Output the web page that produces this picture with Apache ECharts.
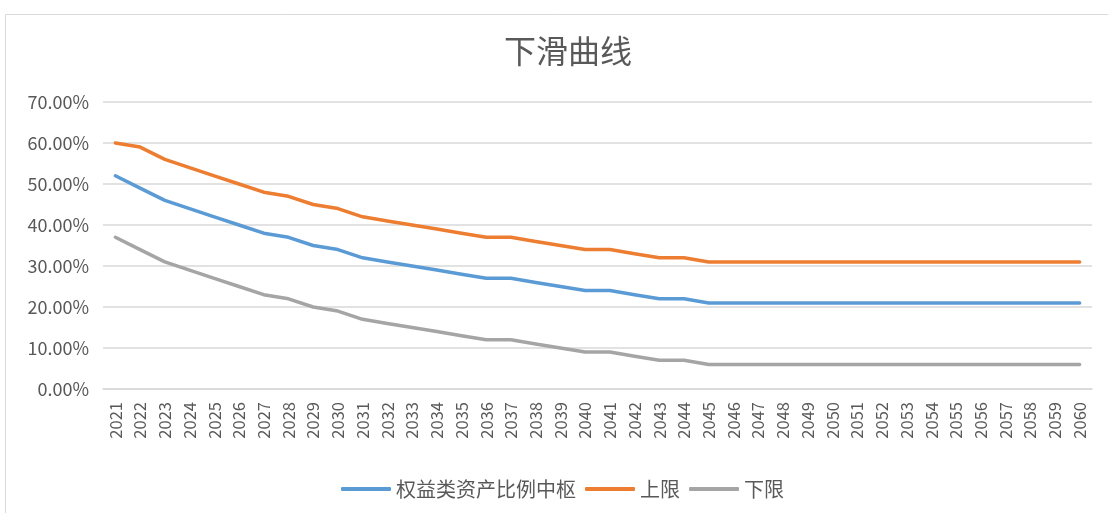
<!DOCTYPE html>
<html><head><meta charset="utf-8">
<script src="https://cdn.jsdelivr.net/npm/echarts@6/dist/echarts.min.js"></script>
<style>html,body{margin:0;padding:0;background:#fff}#c{width:1108px;height:513px}</style>
</head><body><div id="c"></div>
<script>
const years = [2021,2022,2023,2024,2025,2026,2027,2028,2029,2030,2031,2032,2033,2034,2035,2036,2037,2038,2039,2040,2041,2042,2043,2044,2045,2046,2047,2048,2049,2050,2051,2052,2053,2054,2055,2056,2057,2058,2059,2060].map(String);
const center = [52,49,46,44,42,40,38,37,35,34,32,31,30,29,28,27,27,26,25,24,24,23,22,22,21,21,21,21,21,21,21,21,21,21,21,21,21,21,21,21];
const upper  = [60,59,56,54,52,50,48,47,45,44,42,41,40,39,38,37,37,36,35,34,34,33,32,32,31,31,31,31,31,31,31,31,31,31,31,31,31,31,31,31];
const lower  = [37,34,31,29,27,25,23,22,20,19,17,16,15,14,13,12,12,11,10,9,9,8,7,7,6,6,6,6,6,6,6,6,6,6,6,6,6,6,6,6];
const seriesNames = ['权益类资产比例中枢','上限','下限'];
const colors = ['#5B9BD5','#ED7D31','#A5A5A5'];
const font = '"Noto Sans CJK SC", "Noto Sans", sans-serif';
const chart = echarts.init(document.getElementById('c'));
const mk = (name, data, color) => ({
  name, type: 'line', data, symbol: 'none', smooth: false,
  lineStyle: {width: 3.5, color, cap: 'round', join: 'round'}, itemStyle: {color}
});
chart.setOption({
  animation: false,
  color: colors,
  graphic: [{type: 'rect', shape: {x: 5.5, y: 14.5, width: 1110, height: 505}, style: {fill: 'none', stroke: '#d9d9d9', lineWidth: 1}, silent: true}],
  title: {text: '下滑曲线', left: 499, top: 30, textStyle: {fontFamily: font, fontSize: 32, fontWeight: 'normal', color: '#595959'}},
  legend: {top: 474, left: 336, itemWidth: 50, itemHeight: 4, itemGap: 9, icon: 'roundRect',
    textStyle: {fontFamily: font, fontSize: 20, color: '#595959'}, data: seriesNames},
  grid: {left: 103, right: 16, top: 102, bottom: 124, containLabel: false},
  xAxis: {type: 'category', data: years, boundaryGap: true,
    axisLine: {lineStyle: {color: '#d9d9d9', width: 1.5}}, axisTick: {show: false},
    axisLabel: {rotate: 90, interval: 0, color: '#595959', fontFamily: font, fontSize: 16.5, margin: 13}},
  yAxis: {type: 'value', min: 0, max: 70, interval: 10,
    axisLine: {show: false}, axisTick: {show: false},
    splitLine: {lineStyle: {color: '#d9d9d9', width: 1.5}},
    axisLabel: {formatter: v => v.toFixed(2) + '%', color: '#595959', fontFamily: font, fontSize: 18, margin: 14}},
  series: [mk(seriesNames[0], center, colors[0]), mk(seriesNames[1], upper, colors[1]), mk(seriesNames[2], lower, colors[2])]
});
</script></body></html>
